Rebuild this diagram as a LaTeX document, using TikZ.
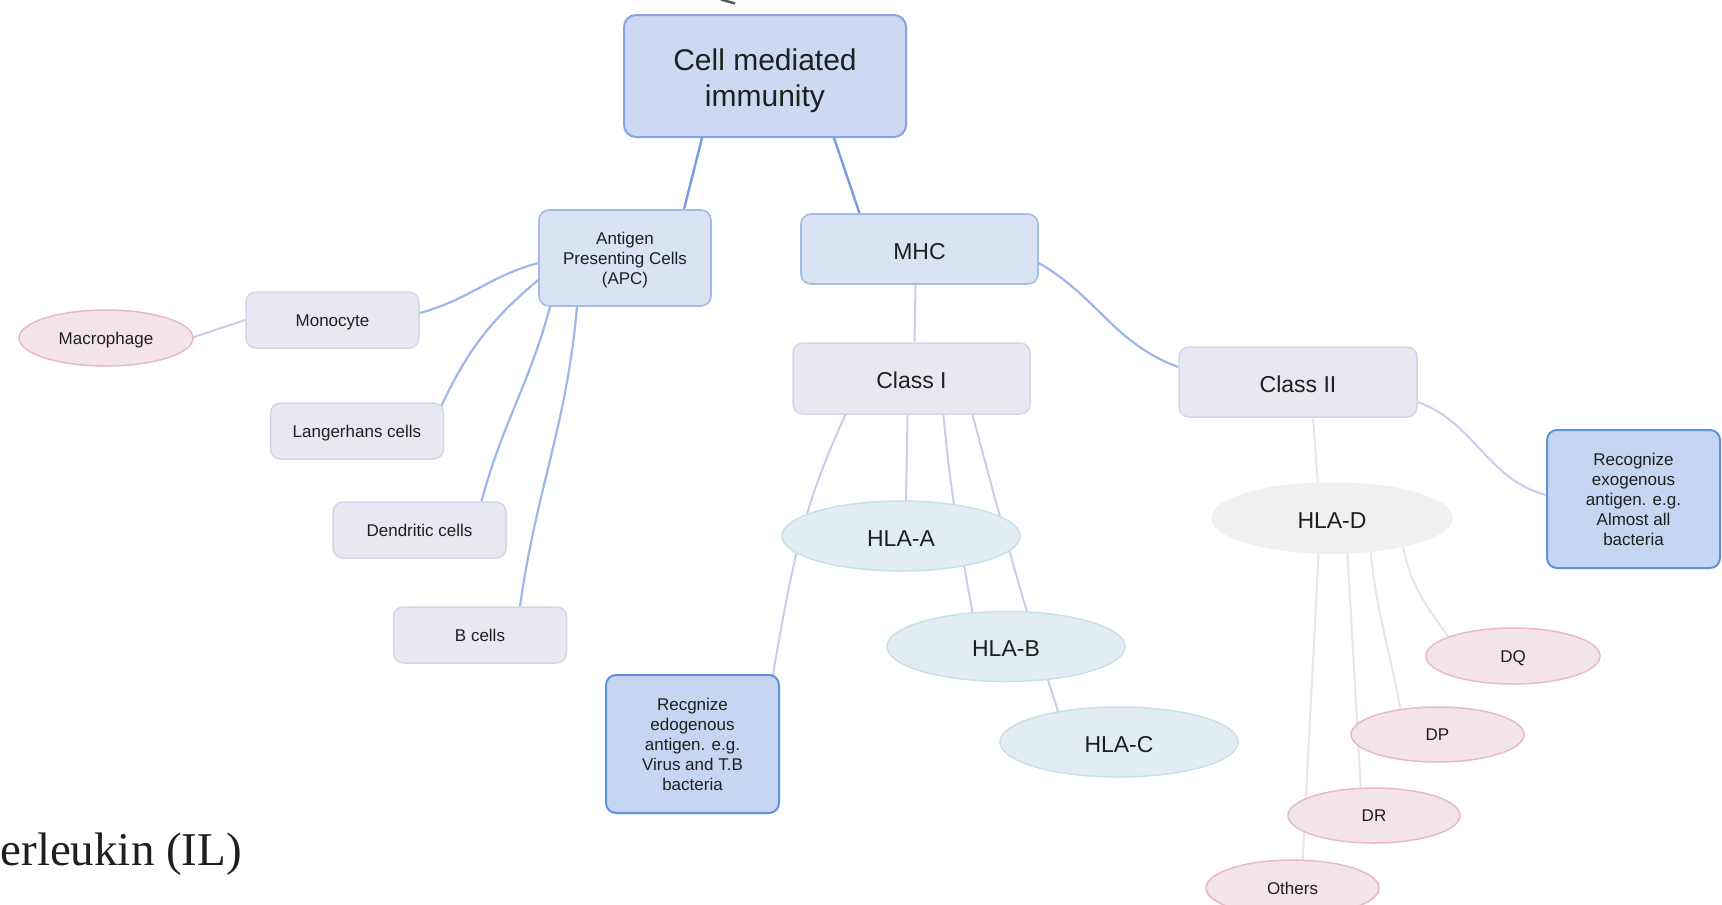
\documentclass[tikz,border=0pt]{standalone}
\usepackage{fontspec}
\setmainfont{Liberation Sans}
\newfontfamily\slidefont{Liberation Serif}
\usetikzlibrary{shapes.geometric, backgrounds}
\definecolor{topfill}{HTML}{CDD9F2}
\definecolor{topline}{HTML}{86A4E2}
\definecolor{mainfill}{HTML}{D9E3F4}
\definecolor{mainline}{HTML}{A3BCEA}
\definecolor{subfill}{HTML}{E8E8F1}
\definecolor{subline}{HTML}{D6D4EB}
\definecolor{pinkfill}{HTML}{F3E4E9}
\definecolor{pinkline}{HTML}{E7BAC6}
\definecolor{hlafill}{HTML}{E2EDF3}
\definecolor{hlaline}{HTML}{C6E1E8}
\definecolor{greyfill}{HTML}{F0F0F0}
\definecolor{notefill}{HTML}{C5D6F2}
\definecolor{noteline}{HTML}{6190DC}
\definecolor{linkblue}{HTML}{7C9CE0}
\definecolor{linkpale}{HTML}{9CB7E8}
\definecolor{linklilac}{HTML}{CDCBEA}
\definecolor{linkgrey}{HTML}{E8E4E8}

\begin{document}
\begin{tikzpicture}[
    x=1pt, y=1pt,
    bigtext/.style={font=\fontsize{23}{27}\selectfont, text height=20.5pt, text depth=0pt},
    smalltext/.style={font=\fontsize{17}{20}\selectfont},
    oneline/.style={smalltext, text height=12.2pt, text depth=0pt},
    box/.style={rectangle, rounded corners=10pt, inner sep=0pt, align=center, text=black!88},
    oval/.style={ellipse, inner sep=0pt, align=center, text=black!88, line width=1.5pt},
    rootbox/.style={box, fill=topfill, draw=topline, line width=2pt, rounded corners=12pt,
        minimum width=282pt, minimum height=122pt, font=\fontsize{30}{36}\selectfont},
    mainbox/.style={box, fill=mainfill, draw=mainline, line width=1.6pt},
    cellbox/.style={box, oneline, fill=subfill, draw=subline, line width=1.5pt,
        minimum width=173pt, minimum height=56pt},
    classbox/.style={box, bigtext, fill=subfill, draw=subline, line width=1.5pt,
        minimum width=237pt, minimum height=71pt},
    notebox/.style={box, smalltext, fill=notefill, draw=noteline, line width=2pt,
        minimum width=173pt, minimum height=138pt},
    pinkoval/.style={oval, oneline, fill=pinkfill, draw=pinkline,
        minimum width=173pt, minimum height=56pt},
    hlaoval/.style={oval, bigtext, fill=hlafill, draw=hlaline,
        minimum width=238pt, minimum height=70pt},
    strong link/.style={draw=linkblue, line width=2.4pt},
    pale link/.style={draw=linkpale, line width=2.2pt},
    soft link/.style={draw=linklilac, line width=2pt},
    faint link/.style={draw=linkgrey, line width=2pt}
]

\useasboundingbox (0,0) rectangle (1722,-905);
\clip (0,0) rectangle (1722,-905);

% Slide behind the map
\draw[black!65, line width=2.5pt] (721,0.5) -- (735,-3.5);
\node[anchor=base west, font=\slidefont\fontsize{47}{50}\selectfont, text=black!88] (iltext) at (-3,-865) {erleukin (IL)};

% Root
\node[rootbox] (cmi) at (765,-76) {\rule{0pt}{32pt}Cell mediated\\immunity};

% Antigen presenting cells
\node[mainbox, smalltext, minimum width=172pt, minimum height=96pt] (apc) at (625,-258) {\rule{0pt}{17pt}Antigen\\Presenting Cells\\(APC)};
\node[cellbox] (monocyte) at (332.5,-320) {Monocyte};
\node[pinkoval, minimum width=174pt] (macrophage) at (106,-338) {Macrophage};
\node[cellbox] (langerhans) at (357,-431) {Langerhans cells};
\node[cellbox] (dendritic) at (419.5,-530) {Dendritic cells};
\node[cellbox] (bcells) at (480,-635) {B cells};

% MHC
\node[mainbox, bigtext, minimum width=237pt, minimum height=70pt] (mhc) at (919.5,-249) {MHC};
\node[classbox] (classI) at (911.5,-378.5) {Class I};
\node[classbox, minimum width=238pt, minimum height=70pt] (classII) at (1298,-382) {Class II};

% Class I
\node[hlaoval] (hlaA) at (901,-536) {HLA-A};
\node[hlaoval] (hlaB) at (1006,-646.5) {HLA-B};
\node[hlaoval] (hlaC) at (1119,-742) {HLA-C};
\node[notebox] (endo) at (692.5,-744) {Recgnize\\edogenous\\antigen. e.g.\\Virus and T.B\\bacteria};

% Class II
\node[oval, bigtext, fill=greyfill, draw=greyfill, minimum width=240pt, minimum height=70pt] (hlaD) at (1332,-518) {HLA-D};
\node[notebox] (exo) at (1633.5,-499) {Recognize\\exogenous\\antigen. e.g.\\Almost all\\bacteria};
\node[pinkoval, minimum width=174pt] (dq) at (1513,-656) {DQ};
\node[pinkoval, minimum height=55pt] (dp) at (1437.5,-734.5) {DP};
\node[pinkoval, minimum width=172pt, minimum height=55pt] (dr) at (1374,-815.5) {DR};
\node[pinkoval] (others) at (1292.5,-888) {Others};

% Connectors
\begin{scope}[on background layer]
\draw[strong link] ([xshift=-63pt]cmi.south) -- ([xshift=59pt]apc.north);
\draw[strong link] ([xshift=69pt]cmi.south) -- ([xshift=-60pt]mhc.north);
\draw[pale link] ([yshift=-5pt]apc.west) to[out=195,in=15] ([yshift=7pt]monocyte.east);
\draw[pale link] ([yshift=-22pt]apc.west) to[out=220,in=65] ([xshift=-4pt,yshift=-6pt]langerhans.north east);
\draw[pale link] ([xshift=-75pt]apc.south) to[out=255,in=75] ([xshift=62pt]dendritic.north);
\draw[pale link] ([xshift=-48pt]apc.south) to[out=265,in=82] ([xshift=40pt]bcells.north);
\draw[soft link] (monocyte.west) -- ([xshift=-3pt]macrophage.east);
\draw[pale link] ([yshift=-14pt]mhc.east) to[out=-30,in=160] ([yshift=15pt]classII.west);
\draw[soft link] ([xshift=-4pt]mhc.south) -- ([xshift=3pt]classI.north);
\draw[soft link] ([xshift=-66pt]classI.south) to[out=245,in=80] ([xshift=80pt,yshift=-3pt]endo.north);
\draw[soft link] ([xshift=-4pt]classI.south) -- ([xshift=5pt,yshift=-4pt]hlaA.north);
\draw[soft link] ([xshift=32pt]classI.south) to[out=-85,in=100] ([xshift=-33pt,yshift=-5pt]hlaB.north);
\draw[soft link] ([xshift=61pt]classI.south) to[out=-75,in=108] ([xshift=-60pt,yshift=-8pt]hlaC.north);
\draw[soft link] ([yshift=-20pt]classII.east) to[out=-20,in=165] ([yshift=4pt]exo.west);
\draw[faint link] ([xshift=15pt]classII.south) -- ([xshift=-14pt,yshift=-4pt]hlaD.north);
\draw[faint link] ([xshift=-13pt,yshift=8pt]hlaD.south) -- ([xshift=10pt,yshift=-4pt]others.north);
\draw[faint link] ([xshift=15pt,yshift=8pt]hlaD.south) -- ([xshift=-13pt,yshift=-4pt]dr.north);
\draw[faint link] ([xshift=38pt,yshift=8pt]hlaD.south) to[out=-85,in=100] ([xshift=-36.5pt,yshift=-6pt]dp.north);
\draw[faint link] ([xshift=71pt,yshift=8pt]hlaD.south) to[out=-80,in=125] ([xshift=-63pt,yshift=-12pt]dq.north);
\end{scope}

\end{tikzpicture}
\end{document}
